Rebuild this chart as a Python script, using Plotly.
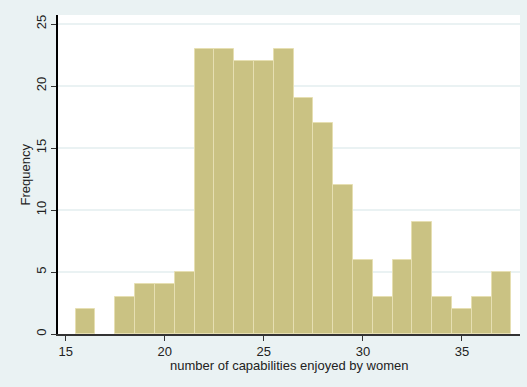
import plotly.graph_objects as go

bin_centers = [16, 17, 18, 19, 20, 21, 22, 23, 24, 25, 26, 27, 28, 29, 30, 31, 32, 33, 34, 35, 36, 37]
frequency = [2, 0, 3, 4, 4, 5, 23, 23, 22, 22, 23, 19, 17, 12, 6, 3, 6, 9, 3, 2, 3, 5]
x_ticks = [15, 20, 25, 30, 35]
y_ticks = [0, 5, 10, 15, 20, 25]
x_title = "number of capabilities enjoyed by women"
y_title = "Frequency"

fig = go.Figure(go.Bar(
    x=bin_centers, y=frequency, width=1,
    marker=dict(color="#cac283",
                line=dict(color="#e6dfb2", width=[1 if f > 0 else 0 for f in frequency])),
    hoverinfo="skip",
))

font = "Liberation Sans, Arial, sans-serif"
fig.update_layout(
    width=527, height=387,
    margin=dict(l=58, r=7, t=15, b=53),
    paper_bgcolor="#eaf2f3", plot_bgcolor="#ffffff",
    font=dict(family=font, size=13, color="#222222"),
    showlegend=False, bargap=0,
)
fig.update_xaxes(
    range=[14.61, 37.93], tickvals=x_ticks, ticks="outside", ticklen=5,
    tickcolor="#333333", showline=True, linecolor="#333333", linewidth=1.5,
    showgrid=False, zeroline=False, automargin=False,
)
fig.update_yaxes(
    range=[0, 25.73], tickvals=y_ticks, ticks="outside", ticklen=5, tickangle=-90,
    tickcolor="#333333", showline=True, linecolor="#000000", linewidth=1.5,
    showgrid=True, gridcolor="#eaf2f3", gridwidth=1.5, zeroline=False, automargin=False,
)
fig.add_annotation(text=x_title, xref="paper", yref="paper", x=0.5, y=0,
                   xanchor="center", yanchor="middle", yshift=-31, showarrow=False,
                   font=dict(size=13, color="#222222"))
fig.add_annotation(text=y_title, xref="paper", yref="paper", x=0, y=0.5,
                   xanchor="center", yanchor="middle", xshift=-33, textangle=-90,
                   showarrow=False, font=dict(size=13, color="#222222"))
fig.write_html("out.html", config={"displayModeBar": False},
               post_script="document.body.style.margin='0';document.body.style.overflow='hidden';")
